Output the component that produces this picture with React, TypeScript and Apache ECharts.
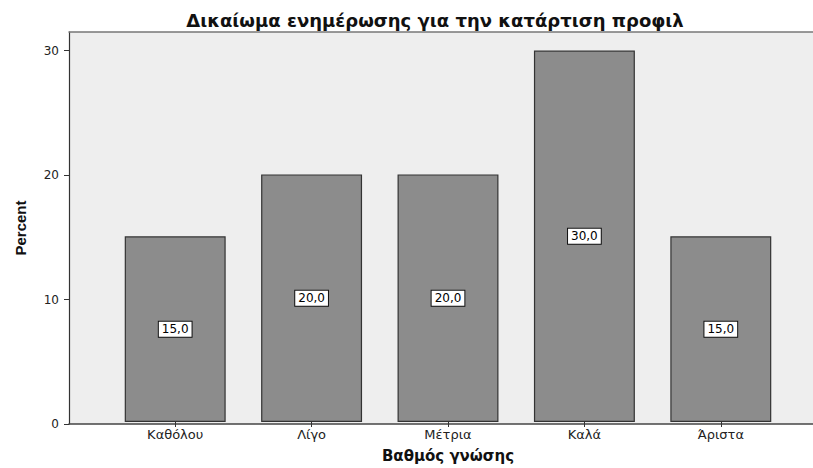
import React, { useEffect, useRef } from "react";
import * as echarts from "echarts";

const titleText = "Δικαίωμα ενημέρωσης για την κατάρτιση προφιλ";
const categories = ["Καθόλου", "Λίγο", "Μέτρια", "Καλά", "Άριστα"];
const percentValues = [15.0, 20.0, 20.0, 30.0, 15.0];
const yTicks = [0, 10, 20, 30];
const yName = "Percent";
const xName = "Βαθμός γνώσης";

const FONT = "'DejaVu Sans', 'Liberation Sans', Arial, sans-serif";
const NARROW = "'Liberation Sans Narrow', 'Liberation Sans', Arial, sans-serif";

export default function App() {
  const ref = useRef<HTMLDivElement>(null);
  useEffect(() => {
    if (!ref.current) return;
    const chart = echarts.init(ref.current, null, { renderer: "svg" });
    const yMax = 31.5;
    chart.setOption({
      animation: false,
      backgroundColor: "#ffffff",
      title: {
        text: titleText,
        left: 430,
        textAlign: "center",
        top: 6,
        textStyle: { fontFamily: FONT, fontWeight: "bold", fontSize: 18, color: "#111" },
      },
      grid: [
        { left: 69, right: -2, top: 32, bottom: 44, show: true, backgroundColor: "#eeeeee", borderWidth: 0 },
        { left: 107, right: 24, top: 32, bottom: 44 },
      ],
      xAxis: [
        {
          type: "value",
          gridIndex: 0,
          min: 0,
          max: 1,
          position: "bottom",
          axisLine: { show: true, onZero: false, lineStyle: { color: "#444", width: 1.5 } },
          axisTick: { show: false },
          axisLabel: { show: false },
          splitLine: { show: false },
        },
        {
          type: "value",
          gridIndex: 0,
          min: 0,
          max: 1,
          position: "top",
          axisLine: { show: true, onZero: false, lineStyle: { color: "#777", width: 1.5 } },
          axisTick: { show: false },
          axisLabel: { show: false },
          splitLine: { show: false },
        },
        {
          type: "category",
          gridIndex: 1,
          data: categories,
          name: xName,
          nameLocation: "middle",
          nameGap: 26,
          nameTextStyle: { fontFamily: FONT, fontWeight: "bold", fontSize: 15, color: "#111" },
          axisLine: { show: false },
          axisTick: { show: true, alignWithLabel: true, length: 5, lineStyle: { color: "#333" } },
          axisLabel: { fontFamily: FONT, fontSize: 13, color: "#222", margin: 6 },
        },
      ],
      yAxis: [
        {
          type: "value",
          gridIndex: 0,
          min: 0,
          max: yMax,
          name: yName,
          nameLocation: "middle",
          nameGap: 41,
          nameTextStyle: { fontFamily: NARROW, fontWeight: "bold", fontSize: 15, color: "#111" },
          axisLine: { show: true, lineStyle: { color: "#333", width: 1.2 } },
          axisTick: { show: true, length: 5, customValues: yTicks, lineStyle: { color: "#333" } },
          axisLabel: { fontFamily: FONT, fontSize: 12, color: "#222", margin: 10, customValues: yTicks },
          splitLine: { show: false },
        },
        {
          type: "value",
          gridIndex: 1,
          min: 0,
          max: yMax,
          show: false,
          splitLine: { show: false },
        },
      ],
      series: [
        {
          type: "bar",
          xAxisIndex: 2,
          yAxisIndex: 1,
          data: percentValues,
          barWidth: "74%",
          itemStyle: { color: "#8c8c8c", borderColor: "#333", borderWidth: 1.2 },
          label: {
            show: true,
            position: "inside",
            formatter: (p: any) => p.value.toFixed(1).replace(".", ","),
            fontFamily: FONT,
            fontSize: 12,
            color: "#000",
            backgroundColor: "#ffffff",
            borderColor: "#111",
            borderWidth: 1,
            padding: [2, 3, 1, 3],
          },
        },
      ],
    });
    return () => chart.dispose();
  }, []);
  return (
    <div
      ref={ref}
      style={{ position: "fixed", left: 0, top: 0, width: 813, height: 468 }}
    />
  );
}
